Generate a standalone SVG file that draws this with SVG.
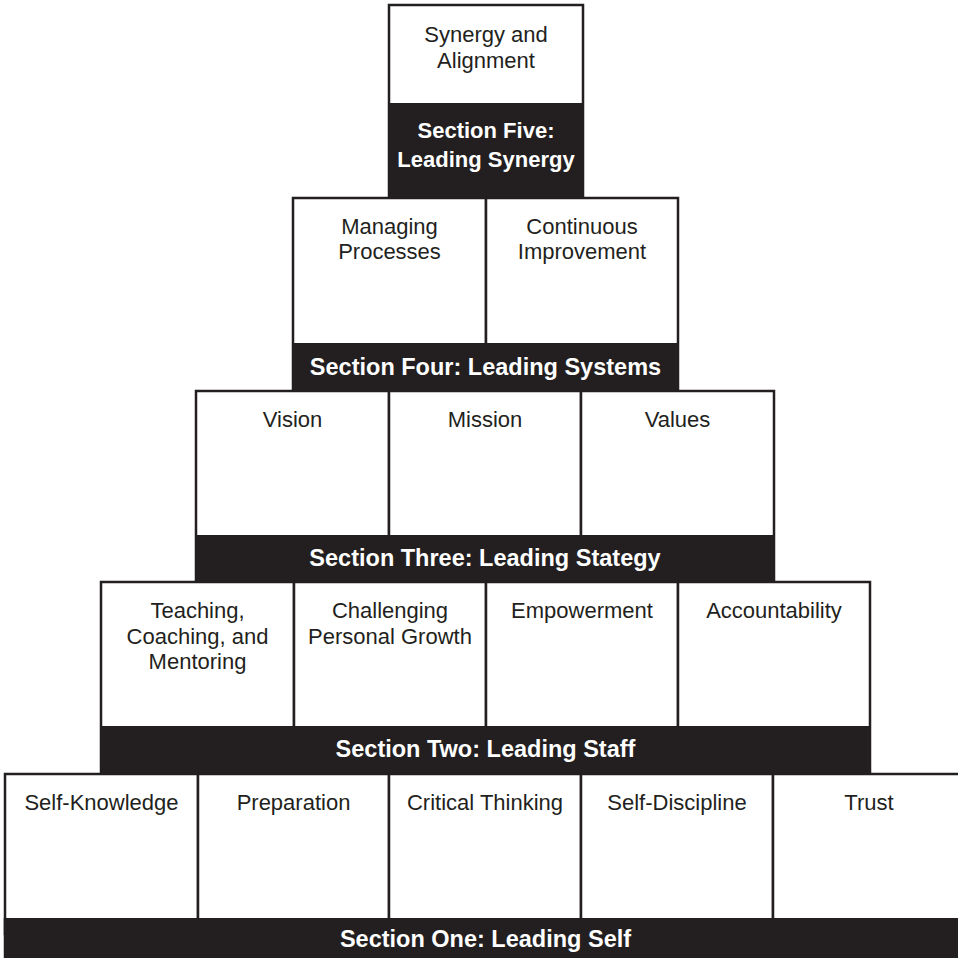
<svg xmlns="http://www.w3.org/2000/svg" width="958" height="963" viewBox="0 0 958 963">
  <style>
    .cell { fill: #ffffff; stroke: #231f20; stroke-width: 2.5; }
    .band { fill: #231f20; }
    .lbl { font-family: "Liberation Sans", Arial, Helvetica, sans-serif; font-size: 22px; fill: #231f20; text-anchor: middle; }
    .sec { font-family: "Liberation Sans", Arial, Helvetica, sans-serif; font-weight: bold; font-size: 23.5px; fill: #ffffff; text-anchor: middle; }
    .sec5 { font-size: 22px; }
  </style>
  <rect width="958" height="963" fill="#ffffff"/>

  <!-- Tier 5 -->
  <g id="synergy-alignment">
    <rect class="cell" x="389" y="5" width="194" height="192"/>
    <text class="lbl" x="486" y="42">Synergy and</text>
    <text class="lbl" x="486" y="68">Alignment</text>
  </g>
  <g id="section-five">
    <rect class="band" x="388" y="103" width="196" height="95"/>
    <text class="sec sec5" x="486" y="138">Section Five:</text>
    <text class="sec sec5" x="486" y="167">Leading Synergy</text>
  </g>

  <!-- Tier 4 -->
  <g id="managing-processes">
    <rect class="cell" x="293" y="198" width="193" height="193"/>
    <text class="lbl" x="389.5" y="234">Managing</text>
    <text class="lbl" x="389.5" y="259">Processes</text>
  </g>
  <g id="continuous-improvement">
    <rect class="cell" x="486" y="198" width="192" height="193"/>
    <text class="lbl" x="582" y="234">Continuous</text>
    <text class="lbl" x="582" y="259">Improvement</text>
  </g>
  <g id="section-four">
    <rect class="band" x="292" y="343" width="387" height="48"/>
    <text class="sec" x="485.5" y="375">Section Four: Leading Systems</text>
  </g>

  <!-- Tier 3 -->
  <g id="vision">
    <rect class="cell" x="196" y="391" width="193" height="190"/>
    <text class="lbl" x="292.5" y="427">Vision</text>
  </g>
  <g id="mission">
    <rect class="cell" x="389" y="391" width="192" height="190"/>
    <text class="lbl" x="485" y="427">Mission</text>
  </g>
  <g id="values">
    <rect class="cell" x="581" y="391" width="193" height="190"/>
    <text class="lbl" x="677.5" y="427">Values</text>
  </g>
  <g id="section-three">
    <rect class="band" x="195" y="535" width="580" height="47"/>
    <text class="sec" x="485" y="566">Section Three: Leading Stategy</text>
  </g>

  <!-- Tier 2 -->
  <g id="teaching-coaching-mentoring">
    <rect class="cell" x="101" y="582" width="193" height="192"/>
    <text class="lbl" x="197.5" y="618">Teaching,</text>
    <text class="lbl" x="197.5" y="644">Coaching, and</text>
    <text class="lbl" x="197.5" y="669">Mentoring</text>
  </g>
  <g id="challenging-growth">
    <rect class="cell" x="294" y="582" width="192" height="192"/>
    <text class="lbl" x="390" y="618">Challenging</text>
    <text class="lbl" x="390" y="644">Personal Growth</text>
  </g>
  <g id="empowerment">
    <rect class="cell" x="486" y="582" width="192" height="192"/>
    <text class="lbl" x="582" y="618">Empowerment</text>
  </g>
  <g id="accountability">
    <rect class="cell" x="678" y="582" width="192" height="192"/>
    <text class="lbl" x="774" y="618">Accountability</text>
  </g>
  <g id="section-two">
    <rect class="band" x="100" y="726" width="771" height="48"/>
    <text class="sec" x="485.5" y="757">Section Two: Leading Staff</text>
  </g>

  <!-- Tier 1: cell bottoms sit under the band -->
  <g id="self-knowledge">
    <rect class="cell" x="5" y="774" width="193" height="160"/>
    <text class="lbl" x="101.5" y="810">Self-Knowledge</text>
  </g>
  <g id="preparation">
    <rect class="cell" x="198" y="774" width="191" height="160"/>
    <text class="lbl" x="293.5" y="810">Preparation</text>
  </g>
  <g id="critical-thinking">
    <rect class="cell" x="389" y="774" width="192" height="160"/>
    <text class="lbl" x="485" y="810">Critical Thinking</text>
  </g>
  <g id="self-discipline">
    <rect class="cell" x="581" y="774" width="192" height="160"/>
    <text class="lbl" x="677" y="810">Self-Discipline</text>
  </g>
  <g id="trust">
    <rect class="cell" x="773" y="774" width="193" height="160"/>
    <text class="lbl" x="869" y="810">Trust</text>
  </g>
  <g id="section-one">
    <rect class="band" x="3.75" y="918" width="962" height="40"/>
    <text class="sec" x="485.5" y="947">Section One: Leading Self</text>
  </g>

  <g id="connectors"/>
</svg>
